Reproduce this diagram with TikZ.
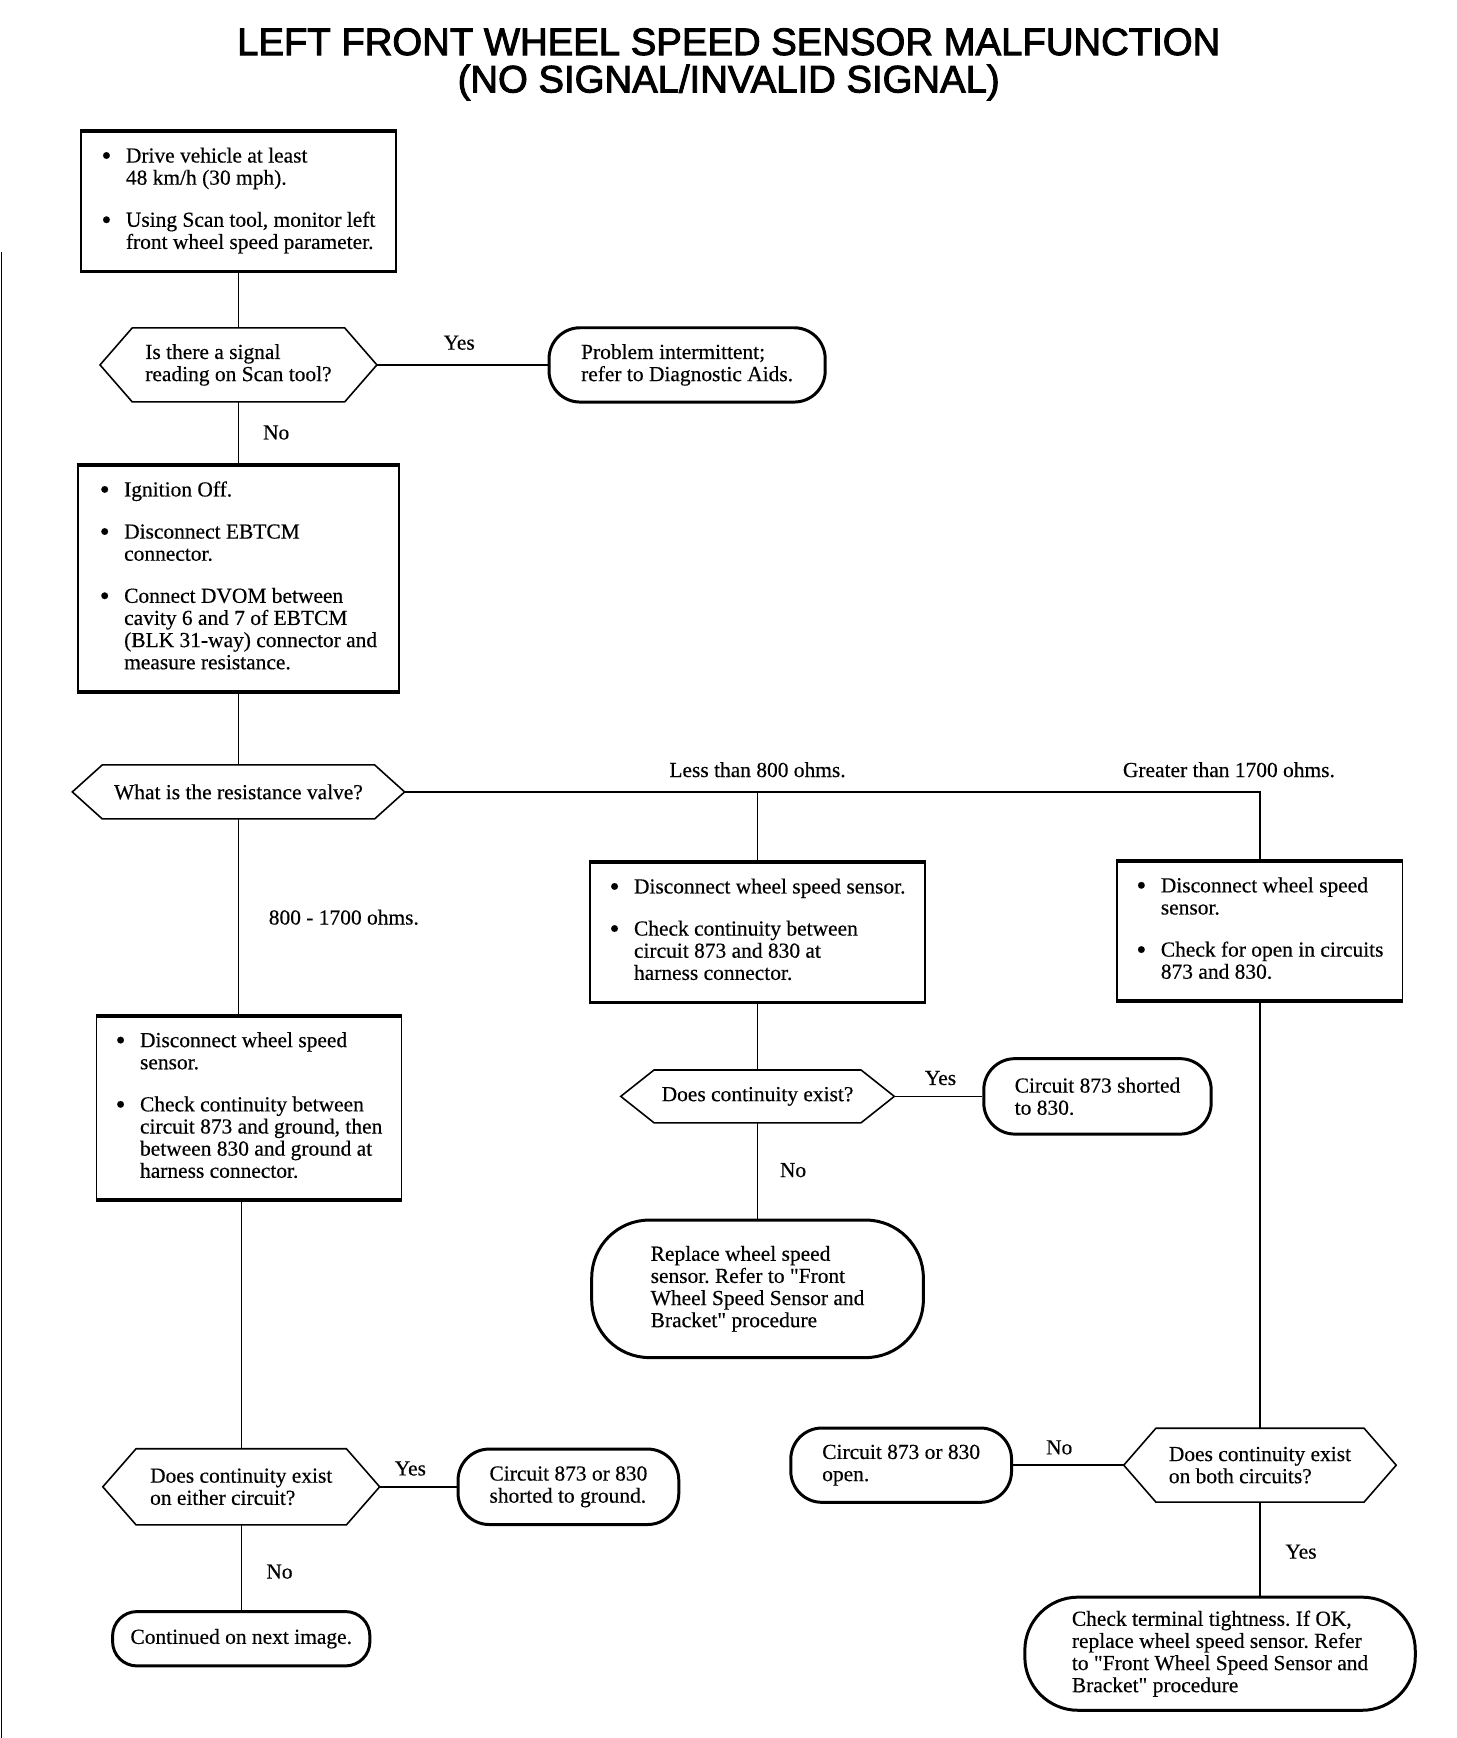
\documentclass[tikz,border=0pt]{standalone}
\usepackage{fontspec}
\setmainfont[FakeBold=0.4]{Liberation Serif}
\newfontfamily\titlefont[FakeBold=2.5]{Liberation Sans}
\usepackage{tikz}
\usetikzlibrary{positioning, calc}
\frenchspacing
\newdimen\pxu
\pxu=0.02218cm
\newcommand{\bodyfont}{\fontsize{12.2}{12.6}\selectfont}
\newcommand{\Bul}{{\fontsize{16}{12}\selectfont\raisebox{-1.3pt}{\textbullet}}}
\newcommand{\BulletList}[1]{\begin{tabular}{@{}p{22\pxu}@{}l@{}}#1\end{tabular}}
\newcommand{\DrawHex}[2]{
    \draw[askLine] (#1.west) -- ([xshift=#2]#1.north west) -- ([xshift=-#2]#1.north east) -- (#1.east) -- ([xshift=-#2]#1.south east) -- ([xshift=#2]#1.south west) -- cycle;
}
\tikzset{
    % Connectors
    flowLine/.style={line width=0.8pt},
    askLine/.style={line width=0.9pt},
    branchLabel/.style={font=\bodyfont, inner sep=0pt},
    % Boxes
    stepBox/.style={rectangle, draw, line width=1.1pt, inner sep=0pt, align=left, font=\bodyfont,
        append after command={\pgfextra{\draw[line width=2pt] (\tikzlastnode.north west) -- (\tikzlastnode.north east) (\tikzlastnode.south west) -- (\tikzlastnode.south east);}}},
    endBox/.style={rectangle, rounded corners=#1, draw, line width=1.7pt, inner sep=0pt, align=left, font=\bodyfont},
    endBox/.default=28\pxu,
    askBox/.style={rectangle, inner sep=0pt, align=left, font=\bodyfont}
}
\begin{document}
\begin{tikzpicture}[x=0.02218cm, y=-0.02218cm]
    \useasboundingbox (0,0) rectangle (1313,1567);

    % Title
    \node[font=\titlefont\fontsize{21.8}{21.3}\selectfont, align=center] (title) at (657,58) {LEFT FRONT WHEEL SPEED SENSOR MALFUNCTION\\(NO SIGNAL/INVALID SIGNAL)};

    % Scan edge
    \draw[line width=0.6pt] (1,227) -- (1,1567);

    % Left column
    \node[stepBox, minimum width=284\pxu, minimum height=125\pxu] (drive) at (215,181.5) {\BulletList{
        \Bul & Drive vehicle at least\\
        & 48 km/h (30 mph).\\[18\pxu]
        \Bul & Using Scan tool, monitor left\\
        & front wheel speed parameter.}};
    \node[askBox, minimum width=249\pxu, minimum height=66\pxu] (signal) at (215,329) {Is there a signal\\reading on Scan tool?};
    \DrawHex{signal}{29\pxu}
    \node[endBox, minimum width=249\pxu, minimum height=67\pxu] (intermit) at (619.5,329) {Problem intermittent;\\refer to Diagnostic Aids.};
    \node[stepBox, minimum width=290\pxu, minimum height=203\pxu] (ignition) at (215,521.5) {\BulletList{
        \Bul & Ignition Off.\\[18\pxu]
        \Bul & Disconnect EBTCM\\
        & connector.\\[18\pxu]
        \Bul & Connect DVOM between\\
        & cavity 6 and 7 of EBTCM\\
        & (BLK 31-way) connector and\\
        & measure resistance.}};
    \node[askBox, minimum width=299\pxu, minimum height=48\pxu] (resist) at (215,714) {What is the resistance valve?};
    \DrawHex{resist}{27\pxu}

    % Branches
    \node[stepBox, minimum width=302\pxu, minimum height=125\pxu] (lowcheck) at (683,840.5) {\BulletList{
        \Bul & Disconnect wheel speed sensor.\\[18\pxu]
        \Bul & Check continuity between\\
        & circuit 873 and 830 at\\
        & harness connector.}};
    \node[stepBox, minimum width=257\pxu, minimum height=125\pxu] (highcheck) at (1136,839.5) {\BulletList{
        \Bul & Disconnect wheel speed\\
        & sensor.\\[18\pxu]
        \Bul & Check for open in circuits\\
        & 873 and 830.}};
    \node[stepBox, minimum width=275\pxu, minimum height=164\pxu] (midcheck) at (224.5,999) {\BulletList{
        \Bul & Disconnect wheel speed\\
        & sensor.\\[18\pxu]
        \Bul & Check continuity between\\
        & circuit 873 and ground, then\\
        & between 830 and ground at\\
        & harness connector.}};

    % Less than 800 ohms
    \node[askBox, minimum width=246\pxu, minimum height=47\pxu] (contA) at (683,988.5) {Does continuity exist?};
    \DrawHex{contA}{30\pxu}
    \node[endBox, minimum width=205\pxu, minimum height=68\pxu] (short830) at (989.5,988.5) {Circuit 873 shorted\\to 830.};
    \node[endBox=52\pxu, minimum width=299\pxu, minimum height=124\pxu] (replaceA) at (683,1162) {Replace wheel speed\\sensor. Refer to \textquotedbl Front\\Wheel Speed Sensor and\\Bracket\textquotedbl{} procedure};

    % 800 - 1700 ohms
    \node[askBox, minimum width=249\pxu, minimum height=68\pxu] (contB) at (217.5,1340.5) {Does continuity exist\\on either circuit?};
    \DrawHex{contB}{30\pxu}
    \node[endBox, minimum width=199\pxu, minimum height=68\pxu] (shortgnd) at (512.5,1340.5) {Circuit 873 or 830\\shorted to ground.};
    \node[endBox=22\pxu, minimum width=232\pxu, minimum height=49\pxu] (nextimg) at (217.5,1477.5) {Continued on next image.};

    % Greater than 1700 ohms
    \node[askBox, minimum width=245\pxu, minimum height=66\pxu] (contC) at (1136,1321) {Does continuity exist\\on both circuits?};
    \DrawHex{contC}{29\pxu}
    \node[endBox, minimum width=199\pxu, minimum height=67\pxu] (opencirc) at (812.5,1321) {Circuit 873 or 830\\open.};
    \node[endBox=48\pxu, minimum width=352\pxu, minimum height=102\pxu] (replaceB) at (1100,1491) {Check terminal tightness. If OK,\\replace wheel speed sensor. Refer\\to \textquotedbl Front Wheel Speed Sensor and\\Bracket\textquotedbl{} procedure};

    % Connectors
    \draw[flowLine] (drive) -- (signal);
    \draw[flowLine] (signal) -- (intermit);
    \draw[flowLine] (signal) -- (ignition);
    \draw[flowLine] (ignition) -- (resist);
    \draw[flowLine] (resist.east) -| (highcheck.north);
    \draw[flowLine] (lowcheck.north) -- (lowcheck.north |- resist.east);
    \draw[flowLine] (resist.south) -- (resist.south |- midcheck.north);
    \draw[flowLine] (lowcheck) -- (contA);
    \draw[flowLine] (contA) -- (short830);
    \draw[flowLine] (contA) -- (replaceA);
    \draw[flowLine] (contB.north |- midcheck.south) -- (contB.north);
    \draw[flowLine] (contB) -- (shortgnd);
    \draw[flowLine] (contB) -- (nextimg);
    \draw[flowLine] (highcheck) -- (contC);
    \draw[flowLine] (contC) -- (opencirc);
    \draw[flowLine] (contC.south) -- (contC.south |- replaceB.north);

    % Labels
    \node[branchLabel] (yesA) at (414,309) {Yes};
    \node[branchLabel] (noA) at (249,390) {No};
    \node[branchLabel] (lowLbl) at (683,694) {Less than 800 ohms.};
    \node[branchLabel] (highLbl) at (1108,694) {Greater than 1700 ohms.};
    \node[branchLabel] (midLbl) at (310,827) {800 - 1700 ohms.};
    \node[branchLabel] (yesB) at (848,972) {Yes};
    \node[branchLabel] (noB) at (715,1055) {No};
    \node[branchLabel] (yesC) at (370,1324) {Yes};
    \node[branchLabel] (noC) at (252,1417) {No};
    \node[branchLabel] (noD) at (955,1305) {No};
    \node[branchLabel] (yesD) at (1173,1399) {Yes};
\end{tikzpicture}
\end{document}
